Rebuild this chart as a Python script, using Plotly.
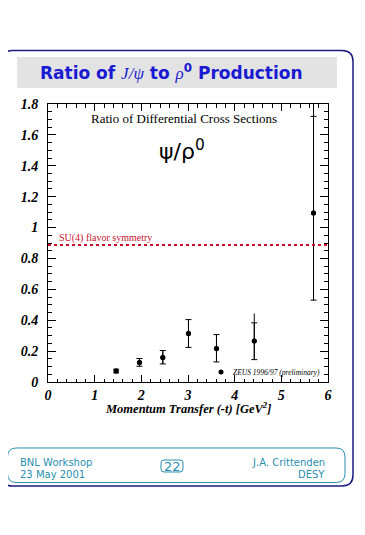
import plotly.graph_objects as go

# ---------------- data ----------------
t_values = [1.46, 1.96, 2.46, 3.01, 3.61, 4.42, 5.69]
ratio = [0.071, 0.127, 0.159, 0.314, 0.217, 0.266, 1.095]
stat_plus = [0.012, 0.025, 0.045, 0.09, 0.09, 0.117, 0.625]
stat_minus = [0.012, 0.025, 0.042, 0.09, 0.087, 0.121, 0.565]
tot_plus = [0.012, 0.025, 0.045, 0.09, 0.09, 0.177, 0.75]
tot_minus = [0.012, 0.025, 0.042, 0.09, 0.087, 0.121, 0.565]
su4_value = 0.887
series_label = "ZEUS 1996/97 (preliminary)"

x_ticks = [0, 1, 2, 3, 4, 5, 6]
x_tick_labels = ["0", "1", "2", "3", "4", "5", "6"]
y_ticks = [0, 0.2, 0.4, 0.6, 0.8, 1.0, 1.2, 1.4, 1.6, 1.8]
y_tick_labels = ["0", "0.2", "0.4", "0.6", "0.8", "1", "1.2", "1.4", "1.6", "1.8"]

# ---------------- layout geometry ----------------
# page body has an 8px margin, so the figure starts at (8, 8) of the window
OFF = 8
FW, FH = 365 - OFF, 535 - OFF
PL, PT, W, H = 48, 104, 280, 278          # plot area in window pixels
L, T = PL - OFF, PT - OFF
R = FW - L - W
B = FH - T - H


def fx(px):
    return (px - PL) / W


def fy(py):
    return (PT + H - py) / H


def rrect(x0, y0, x1, y1, r):
    pts = [
        ("M", [(x0 + r, y0)]),
        ("L", [(x1 - r, y0)]),
        ("Q", [(x1, y0), (x1, y0 + r)]),
        ("L", [(x1, y1 - r)]),
        ("Q", [(x1, y1), (x1 - r, y1)]),
        ("L", [(x0 + r, y1)]),
        ("Q", [(x0, y1), (x0, y1 - r)]),
        ("L", [(x0, y0 + r)]),
        ("Q", [(x0, y0), (x0 + r, y0)]),
    ]
    s = ""
    for cmd, ps in pts:
        s += cmd + " " + " ".join(f"{fx(a):.5f},{fy(b):.5f}" for a, b in ps) + " "
    return s + "Z"


SERIF = "Liberation Serif"
SANS = "DejaVu Sans"
TEAL = "#2a8fb0"
NAVY = "#1c1c80"
BLUE = "#1a1ad2"

fig = go.Figure()

# total error (no caps)
fig.add_trace(go.Scatter(
    x=t_values, y=ratio, mode="markers",
    marker=dict(color="black", size=5),
    error_y=dict(type="data", symmetric=False, array=tot_plus, arrayminus=tot_minus,
                 color="black", thickness=1, width=0),
    showlegend=False, hoverinfo="skip",
))
# statistical error (with caps); legend key only, label drawn as text below
fig.add_trace(go.Scatter(
    x=t_values, y=ratio, mode="markers",
    name="",
    marker=dict(color="black", size=5),
    error_y=dict(type="data", symmetric=False, array=stat_plus, arrayminus=stat_minus,
                 color="black", thickness=1, width=3),
    showlegend=True,
))

shapes = [
    # outer slide border
    dict(type="path", xref="paper", yref="paper", path=rrect(1.5, 50.5, 353, 486, 11),
         line=dict(color=NAVY, width=1.5)),
    # title band
    dict(type="rect", xref="paper", yref="paper", x0=fx(17), x1=fx(337), y0=fy(57), y1=fy(88),
         fillcolor="#e3e3e3", line=dict(width=0), layer="below"),
    # footer box
    dict(type="path", xref="paper", yref="paper", path=rrect(7.5, 448, 345, 482.5, 9),
         line=dict(color=TEAL, width=1)),
    # page number box
    dict(type="path", xref="paper", yref="paper", path=rrect(161, 460, 183, 472, 3),
         line=dict(color=TEAL, width=1)),
    # SU(4) line
    dict(type="line", xref="paper", yref="y", x0=0, x1=1, y0=su4_value, y1=su4_value,
         line=dict(color="#c8102e", width=2, dash="dot")),
]

ann = []


def text(px, py, s, size, color="black", family=SERIF, xanchor="center", yanchor="middle",
         weight="normal", style="normal"):
    ann.append(dict(xref="paper", yref="paper", x=fx(px), y=fy(py), text=s, showarrow=False,
                    xanchor=xanchor, yanchor=yanchor,
                    font=dict(family=family, size=size, color=color, weight=weight, style=style)))


text(171, 72, "Ratio of <span style='font-family:Liberation Serif;font-weight:normal'><i>J/ψ</i></span> to "
     "<span style='font-family:Liberation Serif;font-weight:normal'><i>ρ</i></span><sup>0</sup> Production",
     17, BLUE, SANS, weight="bold")
text(184, 118, "Ratio of Differential Cross Sections", 13)
text(182, 150, "ψ/ρ<sup>0</sup>", 22, family="DejaVu Sans")
text(57, 238, "SU(4) flavor symmetry", 10, "#c8102e", xanchor="left")
text(188, 407.5, "Momentum Transfer (-t) [GeV<sup>2</sup>]", 12.5, weight="bold", style="italic")
text(231, 372, series_label, 7.5, style="italic", xanchor="left")
text(18, 462.5, "BNL Workshop", 10, TEAL, SANS, xanchor="left")
text(18, 474.5, "23 May 2001", 10, TEAL, SANS, xanchor="left")
text(327, 462.5, "J.A. Crittenden", 10, TEAL, SANS, xanchor="right")
text(327, 474.5, "DESY", 10, TEAL, SANS, xanchor="right")
text(172, 466, "22", 13, TEAL, SANS)

tickfont = dict(family=SERIF, size=14, color="black", weight="bold", style="italic")

fig.update_layout(
    width=FW, height=FH,
    margin=dict(l=L, r=R, t=T, b=B, pad=0),
    paper_bgcolor="white", plot_bgcolor="white",
    shapes=shapes, annotations=ann,
    legend=dict(x=fx(201), y=fy(372), xanchor="left", yanchor="middle",
                bgcolor="rgba(0,0,0,0)", borderwidth=0,
                font=dict(family=SERIF, size=7.5, style="italic", color="black")),
    xaxis=dict(range=[0, 6], tickvals=x_ticks, ticktext=x_tick_labels,
               showgrid=False, zeroline=False, showline=True, linecolor="black", linewidth=1,
               mirror="allticks", ticks="inside", ticklen=7, tickcolor="black",
               tickfont=tickfont, ticklabelstandoff=0,
               minor=dict(dtick=0.2, ticks="inside", ticklen=3.5, tickcolor="black", showgrid=False)),
    yaxis=dict(range=[0, 1.8], tickvals=y_ticks, ticktext=y_tick_labels,
               showgrid=False, zeroline=False, showline=True, linecolor="black", linewidth=1,
               mirror="allticks", ticks="inside", ticklen=8, tickcolor="black",
               tickfont=tickfont, ticklabelstandoff=6,
               minor=dict(dtick=0.05, ticks="inside", ticklen=4, tickcolor="black", showgrid=False)),
)

fig.write_html("out.html")
